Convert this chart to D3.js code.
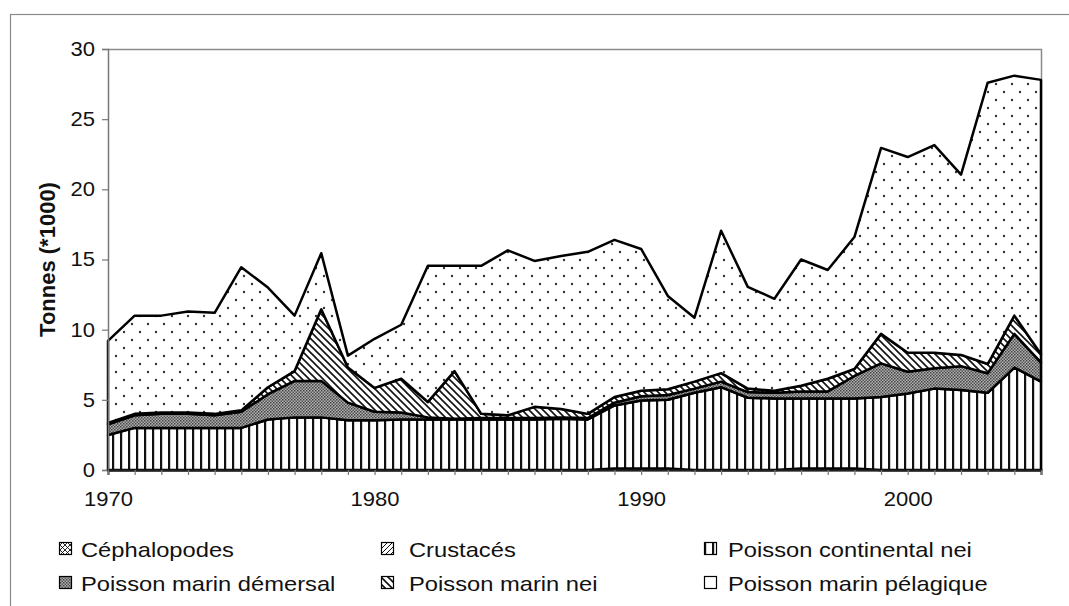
<!DOCTYPE html>
<html><head><meta charset="utf-8">
<script src="https://cdn.jsdelivr.net/npm/d3@7"></script>
<style>body{margin:0;background:#fff}svg{display:block;font-family:"Liberation Sans",Arial,sans-serif}</style>
</head><body>
<svg id="c" width="1069" height="606"></svg>
<script>
const years = d3.range(1970, 2006);
const cephalopodes = [0,0,0,0,0,0,0,0,0,0,0,0,0,0,0,0,0,0,0,0.1,0.1,0.1,0,0,0,0,0.1,0.1,0.1,0,0,0,0,0,0,0];
const crustaces    = [0,0,0,0,0,0,0,0,0,0,0,0,0,0,0,0,0,0,0,0,0,0,0,0,0,0,0,0,0,0,0,0,0,0,0,0];
const continental  = [2.5,3.0,3.0,3.0,3.0,3.0,3.6,3.75,3.75,3.55,3.55,3.6,3.6,3.6,3.6,3.6,3.6,3.65,3.6,4.5,4.85,4.9,5.5,5.9,5.15,5.1,5.0,5.0,5.0,5.2,5.45,5.8,5.7,5.5,7.3,6.3];
const demersal     = [0.75,0.9,1.0,1.0,0.9,1.15,1.8,2.6,2.6,1.25,0.6,0.5,0.15,0.05,0.1,0.1,0.1,0.1,0.1,0.2,0.3,0.35,0.3,0.4,0.4,0.4,0.5,0.5,1.6,2.4,1.55,1.45,1.7,1.4,2.4,1.35];
const marinNei     = [0.1,0.1,0.1,0.1,0.1,0.1,0.5,0.7,5.1,2.5,1.7,2.4,1.1,3.4,0.3,0.2,0.8,0.6,0.3,0.4,0.4,0.4,0.5,0.6,0.25,0.15,0.4,0.9,0.5,2.1,1.35,1.1,0.8,0.65,1.3,0.6];
const pelagique    = [5.85,7.0,6.9,7.2,7.2,10.2,7.1,3.95,4.0,0.85,3.5,3.85,9.7,7.5,10.55,11.75,10.4,10.9,11.55,11.2,10.1,6.65,4.55,10.15,7.25,6.55,9.0,7.75,9.4,13.25,13.95,14.8,12.85,20.05,17.1,19.55];
const seriesNames = ["Céphalopodes","Crustacés","Poisson continental nei","Poisson marin démersal","Poisson marin nei","Poisson marin pélagique"];
const seriesValues = [cephalopodes, crustaces, continental, demersal, marinNei, pelagique];
const patternIds = ["pCeph","pCrus","pCont","pDem","pNei","pPel"];
const legendFills = ["url(#pCeph)","url(#pCrus)","url(#pCont)","url(#pDem)","url(#pNei)","#fff"];
const xTickLabels = [1970, 1980, 1990, 2000];
const yTicks = [0,5,10,15,20,25,30];
const yTitle = "Tonnes (*1000)";

const svg = d3.select("#c");
const defs = svg.append("defs");
function pat(id, w, h, draw){
  const p = defs.append("pattern").attr("id", id).attr("patternUnits","userSpaceOnUse").attr("width", w).attr("height", h);
  p.append("rect").attr("width", w).attr("height", h).attr("fill", "#fff");
  draw(p);
}
pat("pCont", 8, 8, p => p.append("rect").attr("x", 0).attr("y", 0).attr("width", 2.2).attr("height", 8).attr("fill", "#111"));
pat("pDem", 3, 3, p => { p.select("rect").attr("fill","#b0b0b0"); p.append("rect").attr("width",1.5).attr("height",1.5).attr("fill","#444"); p.append("rect").attr("x",1.5).attr("y",1.5).attr("width",1.5).attr("height",1.5).attr("fill","#555"); });
pat("pNei", 7, 7, p => { p.append("path").attr("d","M-1,-1 L8,8 M-4,3 L4,11 M3,-4 L11,4").attr("stroke","#111").attr("stroke-width",1.6); });
pat("pPel", 16, 16, p => { p.append("circle").attr("cx",4).attr("cy",4).attr("r",1.2).attr("fill","#333"); p.append("circle").attr("cx",12).attr("cy",12).attr("r",1.2).attr("fill","#333"); });
pat("pCeph", 5, 5, p => { p.append("path").attr("d","M0,0 L5,5 M5,0 L0,5").attr("stroke","#111").attr("stroke-width",0.9); });
pat("pCrus", 5, 5, p => { p.append("path").attr("d","M-1,6 L6,-1 M-1,1 L1,-1 M4,6 L6,4").attr("stroke","#111").attr("stroke-width",1); });

// outer frame
svg.append("rect").attr("x",10.5).attr("y",14.5).attr("width",1080).attr("height",620).attr("fill","none").attr("stroke","#8a8a8a").attr("stroke-width",1.2);

const L = 108, R = 1041, T = 49, B = 470;
const x = d3.scaleLinear().domain([1970, 2005]).range([L, R]);
const y = d3.scaleLinear().domain([0, 30]).range([B, T]);

const table = years.map((yr, i) => { const o = {year: yr}; seriesNames.forEach((n, k) => o[n] = seriesValues[k][i]); return o; });
const stack = d3.stack().keys(seriesNames)(table);

// plot border (top & right)
svg.append("path").attr("d", `M${L},${T+0.5} H${R+0.5} V${B}`).attr("fill","none").attr("stroke","#8a8a8a").attr("stroke-width",1.5);

const area = d3.area().x(d => x(d.data.year)).y0(d => y(d[0])).y1(d => y(d[1]));
svg.append("g").selectAll("path").data(stack).join("path")
  .attr("d", area)
  .attr("fill", (d, i) => `url(#${patternIds[i]})`)
  .attr("stroke", "#000").attr("stroke-width", 2.5).attr("stroke-linejoin","round");

const STRETCH = 1.1;
// axes
const yAxis = d3.axisLeft(y).tickValues(yTicks).tickSize(6).tickPadding(5);
const gy = svg.append("g").attr("transform", `translate(${L},0)`).call(yAxis);
gy.select(".domain").attr("stroke","#777").attr("stroke-width",1.5);
gy.selectAll(".tick line").attr("stroke","#777").attr("stroke-width",1.2);
gy.selectAll("text").attr("font-size",20).attr("fill","#111").attr("x",0)
  .attr("transform", `translate(-13,0) scale(${STRETCH},1)`);

const xAxis = d3.axisBottom(x).tickValues(years).tickSize(5).tickFormat(d => xTickLabels.includes(d) ? d : "").tickPadding(17);
const gx = svg.append("g").attr("transform", `translate(0,${B})`).call(xAxis);
gx.select(".domain").attr("stroke","#222").attr("stroke-width",2);
gx.selectAll(".tick line").attr("stroke","#777").attr("stroke-width",1.2);
gx.selectAll("text").attr("font-size",20).attr("fill","#111")
  .attr("transform", `scale(${STRETCH},1)`);

svg.append("text").attr("transform", `translate(55,${(T+B)/2}) rotate(-90)`).attr("text-anchor","middle")
  .attr("font-size",22).attr("font-weight","bold").attr("fill","#111").text(yTitle);

// legend
const legBoxX = [59, 381, 704], legTextX = [81, 409, 728], legRows = [549, 583];
const leg = svg.append("g");
seriesNames.forEach((n, k) => {
  const c = k % 3, cy = legRows[Math.floor(k / 3)];
  leg.append("rect").attr("x",legBoxX[c]+0.5).attr("y",cy-6.5).attr("width",12).attr("height",12)
    .attr("fill",legendFills[k]).attr("stroke","#000").attr("stroke-width",1.2);
  leg.append("text").attr("transform", `translate(${legTextX[c]},${cy+7.5}) scale(1.13,1)`)
    .attr("font-size",21).attr("fill","#111").text(n);
});
</script>
</body></html>
